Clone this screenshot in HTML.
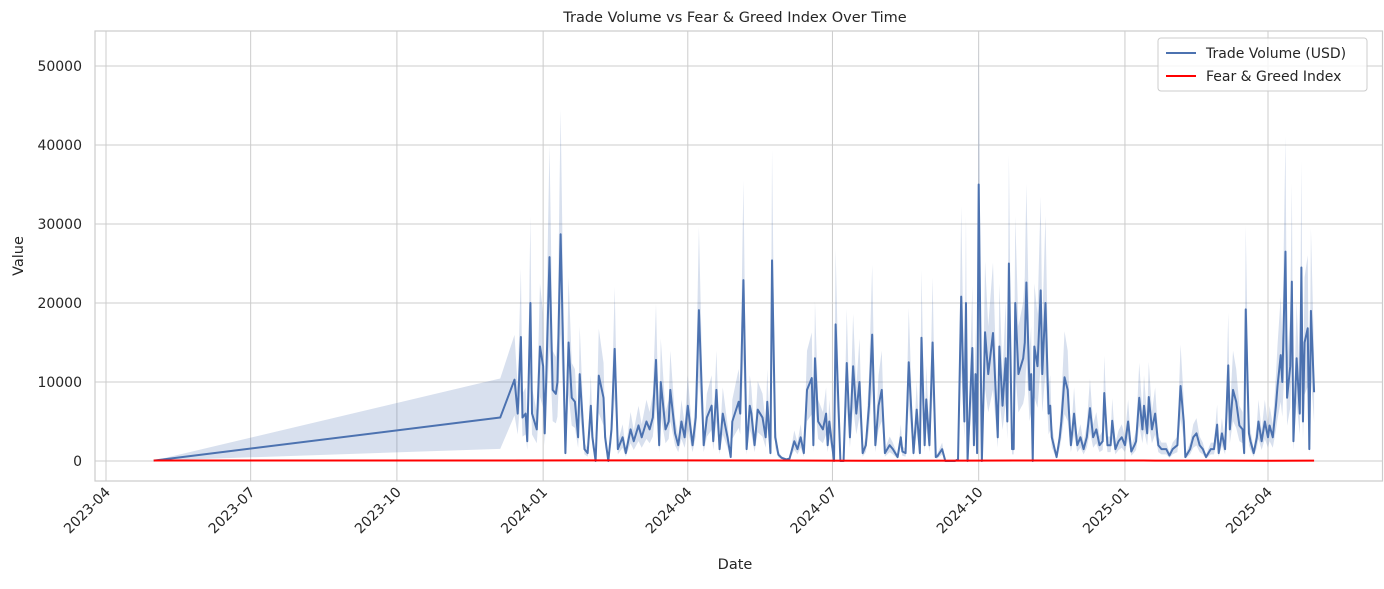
<!DOCTYPE html>
<html><head><meta charset="utf-8"><style>
body{margin:0;background:#fff;}
svg text{font-family:"DejaVu Sans","Liberation Sans",sans-serif;fill:#262626;}
</style></head><body>
<svg id="chart" width="1384" height="584" xmlns="http://www.w3.org/2000/svg">
<rect x="0" y="0" width="1384" height="584" fill="#fff"/>
<g id="grid"></g>
<g id="band"></g>
<g id="lines"></g>
<rect x="95" y="31" width="1287.5" height="450" fill="none" stroke="#cccccc" stroke-width="1.2"/>
<g id="axes"></g>
<text x="735" y="22" text-anchor="middle" font-size="14.5">Trade Volume vs Fear &amp; Greed Index Over Time</text>
<text x="735" y="569" text-anchor="middle" font-size="14.5">Date</text>
<text transform="translate(23,256) rotate(-90)" text-anchor="middle" font-size="14.5">Value</text>
<g>
<rect x="1158" y="38" width="209" height="53" rx="3" fill="#fff" fill-opacity="0.8" stroke="#cccccc"/>
<g><line x1="1166" y1="53" x2="1196" y2="53" stroke="#4c72b0" stroke-width="2"/><text x="1206" y="58" font-size="14">Trade Volume (USD)</text></g>
<g><line x1="1166" y1="76" x2="1196" y2="76" stroke="#ff0000" stroke-width="2"/><text x="1206" y="81" font-size="14">Fear &amp; Greed Index</text></g>
</g>
</svg>
<script>
// days since 2023-04-01
const volumeDays=[30,248,257,259,261,262,264,265,267,268,271,273,275,276,279,281,283,284,286,289,291,293,295,297,298,301,303,305,306,308,310,313,314,316,318,320,322,325,327,330,332,335,337,340,342,344,346,348,349,352,354,355,358,360,362,364,366,369,371,373,376,378,381,382,384,386,388,391,393,394,398,399,401,403,405,406,408,410,413,415,416,418,419,421,423,425,428,430,433,435,437,439,441,444,445,446,448,451,453,454,455,458,459,462,464,466,468,470,472,474,476,478,480,482,484,486,488,490,493,495,498,500,501,503,505,508,510,512,513,515,516,518,520,522,523,526,528,531,534,536,538,540,541,542,545,546,547,548,549,551,553,555,558,561,562,564,566,567,568,570,571,572,574,577,578,579,581,582,583,584,586,588,589,591,593,594,595,598,600,601,603,605,607,609,611,613,615,617,619,621,623,625,627,628,630,632,633,635,637,639,641,643,645,647,648,650,652,653,655,656,658,660,662,664,667,669,671,674,676,678,679,682,684,686,688,690,692,695,697,699,700,702,704,706,707,709,711,713,715,716,717,719,720,722,724,725,727,729,731,732,734,736,737,739,740,742,743,745,746,747,749,751,752,753,754,756,757,758,760];
const volumeValues=[50,5500,10300,6000,15700,5500,6000,2500,20000,6000,4000,14500,12000,3500,25800,9000,8500,10000,28700,1000,15000,8000,7500,3000,11000,1500,1000,7000,3000,0,10800,8000,3000,0,4000,14200,1500,3000,1000,4000,2500,4500,3000,5000,4000,5500,12800,2000,10000,4000,5000,9000,3500,2000,5000,3000,7000,2000,5500,19100,2000,5500,7000,2500,9000,1500,6000,3000,500,5000,7500,6000,22900,1500,7000,6000,2000,6500,5500,3000,7500,1000,25400,3000,800,400,200,300,2500,1500,3000,1000,9000,10500,2000,13000,5000,4000,6000,2000,5000,0,17300,0,0,12400,3000,12000,6000,10000,1000,2000,7000,16000,2000,7000,9000,1000,2000,1500,500,3000,1200,1000,12500,1000,6500,1000,15600,2000,7800,2000,15000,500,600,1500,0,0,0,200,20800,5000,20000,0,14300,2000,11000,1000,35000,0,16300,11000,16200,3000,14500,7000,13000,5000,25000,1500,1500,20000,11000,13000,15000,22600,9000,11000,0,14500,12000,21600,11000,20000,6000,7000,3000,500,3000,5000,10600,9000,2000,6000,2000,3000,1500,3000,6700,3000,4000,2000,2500,8600,2000,2000,5100,1500,2500,3000,2000,5000,1200,2000,2500,8000,4000,7000,3500,8100,4000,6000,2000,1500,1500,700,1500,2000,9500,5000,500,1500,3000,3500,2000,1500,500,1500,1500,4600,1000,3500,1500,12100,4000,9000,7500,4500,4000,1000,19200,3500,2500,1000,3000,5000,2500,5000,3000,4500,3000,7000,9500,13400,10000,26500,8000,12000,22700,2500,13000,6000,24500,5000,15000,16800,1500,19000,8700];
const fgDays=[30,248,300,360,420,480,540,600,660,700,730,760];
const fgValues=[60,70,72,75,60,30,45,65,55,40,30,55];
const yTicks=[0,10000,20000,30000,40000,50000];
const xTickDays=[0,91,183,275,366,457,549,641,731];
const xTickLabels=["2023-04","2023-07","2023-10","2024-01","2024-04","2024-07","2024-10","2025-01","2025-04"];

const NS="http://www.w3.org/2000/svg";
function xs(d){return 106+d*1.5896;}
function ys(v){return 461-v*0.0079;}
function mk(tag,attrs,parent){const e=document.createElementNS(NS,tag);for(const k in attrs)e.setAttribute(k,attrs[k]);parent.appendChild(e);return e;}
const grid=document.getElementById('grid'),axes=document.getElementById('axes');
yTicks.forEach(v=>{
 const l=mk('line',{x1:95,x2:1382,y1:ys(v),y2:ys(v),stroke:'#cccccc','stroke-width':1},grid);
 
 
 const t=mk('text',{x:82,y:ys(v)+5,'text-anchor':'end','font-size':14},axes);
 t.textContent=v;
 
 
});
xTickDays.forEach((d,i)=>{
 const l=mk('line',{x1:xs(d),x2:xs(d),y1:31,y2:481,stroke:'#cccccc','stroke-width':1},grid);
 
 
 const t=mk('text',{x:0,y:0,'text-anchor':'end','font-size':14,transform:`translate(${xs(d)+5},${493}) rotate(-45)`},axes);
 t.textContent=xTickLabels[i];
 
 
});
// band
let up=[],lo=[];
volumeDays.forEach((d,i)=>{const v=volumeValues[i];const s=i<2?(i===0?0:0.9):0.55;up.push(xs(d)+','+ys(v*(1+s)));lo.push(xs(d)+','+ys(v*(1-s*0.8)));});
const band=mk('polygon',{points:up.concat(lo.reverse()).join(' '),fill:'#4c72b0','fill-opacity':0.22,stroke:'none'},document.getElementById('band'));


const lines=document.getElementById('lines');
const vl=mk('polyline',{points:volumeDays.map((d,i)=>xs(d)+','+ys(volumeValues[i])).join(' '),fill:'none',stroke:'#4c72b0','stroke-width':2,'stroke-linejoin':'round'},lines);


const fl=mk('polyline',{points:fgDays.map((d,i)=>xs(d)+','+ys(fgValues[i])).join(' '),fill:'none',stroke:'#ff0000','stroke-width':2},lines);


</script>
</body></html>
